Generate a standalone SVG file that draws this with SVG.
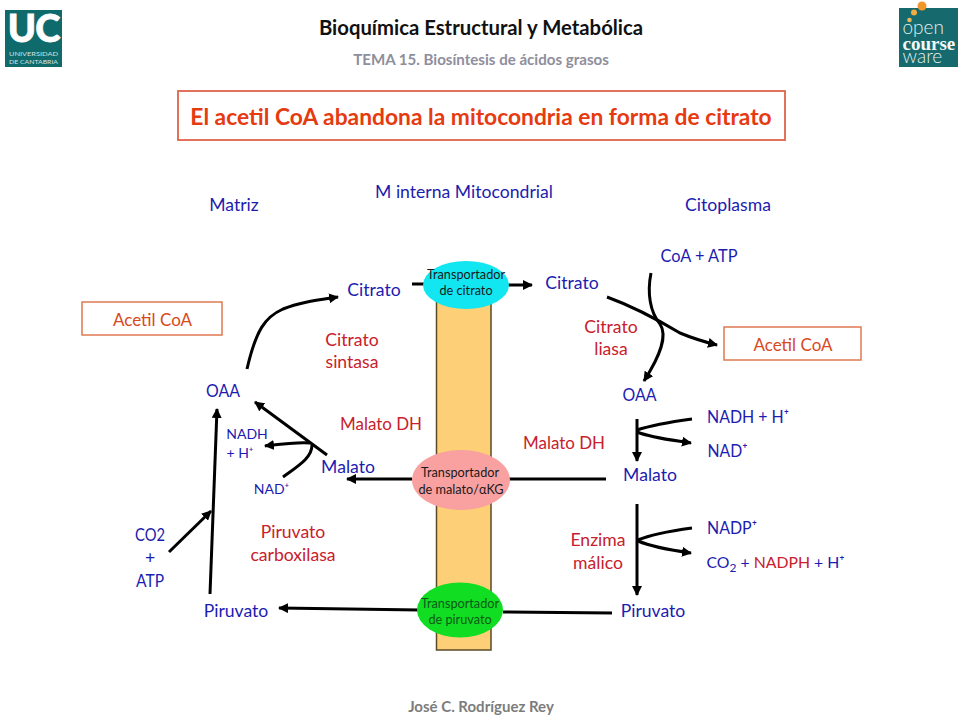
<svg xmlns="http://www.w3.org/2000/svg" width="960" height="716" viewBox="0 0 960 716">
<defs>
<style>
text{font-family:Lato,"Open Sans","Liberation Sans",sans-serif;text-anchor:middle}
.b{fill:#1c1cb0;font-size:17.600px}
.r{fill:#c8202c;font-size:17.600px}
.o{fill:#d9481c;font-size:17px}
.s{fill:#1c1cb0;font-size:14px}
.t{fill:#1a1a1a;font-size:12.700px}
.tg{fill:#0d5a1a;font-size:12.700px}
.l{fill:none;stroke:#000;stroke-width:3;stroke-linecap:butt}
.a{marker-end:url(#ah)}
</style>
<marker id="ah" viewBox="0 0 10 10" refX="9" refY="5" markerUnits="userSpaceOnUse" markerWidth="10" markerHeight="10" orient="auto"><path d="M0 0L10 5L0 10Z" fill="#000"/></marker>
</defs>
<rect width="960" height="716" fill="#fff"/>
<g id="logo-uc"><rect x="5" y="10" width="57" height="57" fill="#0f6a6c"/>
<text x="33.500" y="42" style="font-size:38px;font-weight:900;fill:#fff;stroke:#fff;stroke-width:.8px;letter-spacing:-1px">UC</text>
<text x="33.500" y="56" style="font-size:6px;fill:#cfe3e3" textLength="49" lengthAdjust="spacingAndGlyphs">UNIVERSIDAD</text>
<text x="33.500" y="63.500" style="font-size:6px;fill:#cfe3e3" textLength="49" lengthAdjust="spacingAndGlyphs">DE CANTABRIA</text></g>
<g id="logo-ocw"><rect x="899" y="8" width="59" height="59" fill="#16696c"/>
<circle cx="922" cy="6" r="4.500" fill="#f0962a"/><circle cx="914" cy="12.500" r="3" fill="#f0ac40"/><circle cx="909.500" cy="20" r="2.300" fill="#eab65a"/>
<text x="902.500" y="34" style="font-size:19px;font-weight:300;fill:#e4efef;text-anchor:start">open</text>
<text x="902.500" y="50" style="font-size:19px;font-weight:700;fill:#f2f8f8;text-anchor:start;font-family:'Liberation Serif',serif">course</text>
<text x="902.500" y="63" style="font-size:19px;font-weight:300;fill:#e4efef;text-anchor:start">ware</text></g>
<g id="header">
<text x="481" y="35" style="font-size:20.300px;font-weight:700;fill:#111">Bioquímica Estructural y Metabólica</text>
<text x="481" y="65" style="font-size:15.100px;font-weight:700;fill:#8e8e9c">TEMA 15.  Biosíntesis de ácidos grasos</text>
</g>
<g id="title"><rect x="178" y="91" width="607" height="49" fill="#fff" stroke="#e0634a" stroke-width="1.800"/>
<text x="481" y="125" style="font-size:22.800px;font-weight:700;fill:#e63a10">El acetil CoA abandona la mitocondria en forma de citrato</text></g>
<g id="regions">
<text class="b" x="234" y="211">Matriz</text>
<text class="b" x="464" y="198">M interna Mitocondrial</text>
<text class="b" x="728" y="211">Citoplasma</text>
</g>
<rect id="membrane" x="436.500" y="296" width="54.500" height="354" fill="#fdd077" stroke="#5a4a28" stroke-width="1.500"/>
<g id="connectors">
<path class="l" d="M412 284H437M496 285H532" style="marker-end:url(#ah)"/>
<path class="l a" d="M412 479H347"/>
<path class="l" d="M509 479H606"/>
<path class="l" d="M503 612L612 613"/>
<path class="l a" d="M420 610L279 608"/>
<path class="l a" d="M247 369C256 330 265 317 283 309C300 302 318 300 338 297"/>
<path class="l a" d="M210 594L217 409"/>
<path class="l a" d="M169 552L211 511"/>
<path class="l a" d="M327 455L255 402"/>
<path class="l a" d="M310 443C296 442 282 444 265 446"/>
<path class="l" d="M283 477C298 466 312 458 312 445"/>
<path class="l a" d="M607 297C640 309 665 324 680 333C692 338 705 342 717 345"/>
<path class="l a" d="M651 273C647 293 650 312 660 324C668 336 660 356 644 381"/>
<path class="l a" d="M637 419V461"/>
<path class="l" d="M692 419C670 422 652 425 637 430"/>
<path class="l a" d="M637 432C652 438 672 440 691 443"/>
<path class="l a" d="M637 504V595"/>
<path class="l" d="M692 528C670 531 652 534 638 540"/>
<path class="l a" d="M638 541C652 547 670 550 691 553"/>
</g>
<g id="tr-citrato"><ellipse cx="466" cy="285" rx="43" ry="24" fill="#12e6f0"/><text class="t" x="466" y="279">Transportador</text><text class="t" x="466" y="295">de citrato</text></g>
<g id="tr-malato"><ellipse cx="461" cy="480" rx="49" ry="30" fill="#f9a0a0"/><text class="t" x="460" y="477">Transportador</text><text class="t" x="461" y="494">de malato/αKG</text></g>
<g id="tr-piruvato"><ellipse cx="460" cy="610" rx="43" ry="27.500" fill="#11dd22"/><text class="tg" x="460" y="608">Transportador</text><text class="tg" x="460" y="624">de piruvato</text></g>
<g id="acetil-l"><rect x="82" y="302" width="140" height="33" fill="#fff" stroke="#e07a50" stroke-width="1.500"/><text class="o" x="152.500" y="326">Acetil CoA</text></g>
<g id="acetil-r"><rect x="724" y="327" width="137" height="33" fill="#fff" stroke="#e07a50" stroke-width="1.500"/><text class="o" x="793" y="351">Acetil CoA</text></g>
<g id="labels-left">
<text class="b" x="374" y="296">Citrato</text>
<text class="r" x="352" y="346">Citrato</text><text class="r" x="352" y="368">sintasa</text>
<text class="b" x="223" y="397" textLength="34" lengthAdjust="spacingAndGlyphs">OAA</text>
<text class="r" x="381" y="430" textLength="82" lengthAdjust="spacingAndGlyphs">Malato DH</text>
<text class="b" x="348" y="473">Malato</text>
<text class="s" x="247" y="439">NADH</text>
<text class="s" x="240" y="458">+ H⁺</text>
<text class="s" x="271.500" y="494">NAD⁺</text>
<text class="b" x="150" y="541" textLength="30" lengthAdjust="spacingAndGlyphs">CO2</text><text class="b" x="150" y="564">+</text><text class="b" x="150" y="587" textLength="28" lengthAdjust="spacingAndGlyphs">ATP</text>
<text class="r" x="293" y="538">Piruvato</text><text class="r" x="293" y="561">carboxilasa</text>
<text class="b" x="236" y="617">Piruvato</text>
</g>
<g id="labels-right">
<text class="b" x="572" y="289">Citrato</text>
<text class="b" x="699" y="262" textLength="77" lengthAdjust="spacingAndGlyphs">CoA + ATP</text>
<text class="r" x="611" y="333">Citrato</text><text class="r" x="611" y="355">liasa</text>
<text class="b" x="639.500" y="401" textLength="34" lengthAdjust="spacingAndGlyphs">OAA</text>
<text class="r" x="564" y="449" textLength="82" lengthAdjust="spacingAndGlyphs">Malato DH</text>
<text class="b" x="650" y="481">Malato</text>
<text class="b" x="748" y="423" textLength="82" lengthAdjust="spacingAndGlyphs">NADH + H⁺</text>
<text class="b" x="727.500" y="457" textLength="40" lengthAdjust="spacingAndGlyphs">NAD⁺</text>
<text class="r" x="598" y="546">Enzima</text><text class="r" x="598" y="569">málico</text>
<text class="b" x="732" y="534" textLength="50" lengthAdjust="spacingAndGlyphs">NADP⁺</text>
<text class="b" x="775.500" y="568" style="font-size:15.800px">CO<tspan dy="4" style="font-size:12px">2</tspan><tspan dy="-4"> + </tspan><tspan style="fill:#c8202c">NADPH</tspan> + H⁺</text>
<text class="b" x="653" y="617">Piruvato</text>
</g>
<text id="author" x="481" y="712" style="font-size:15px;font-weight:700;fill:#7c7c7c">José C. Rodríguez Rey</text>
</svg>
